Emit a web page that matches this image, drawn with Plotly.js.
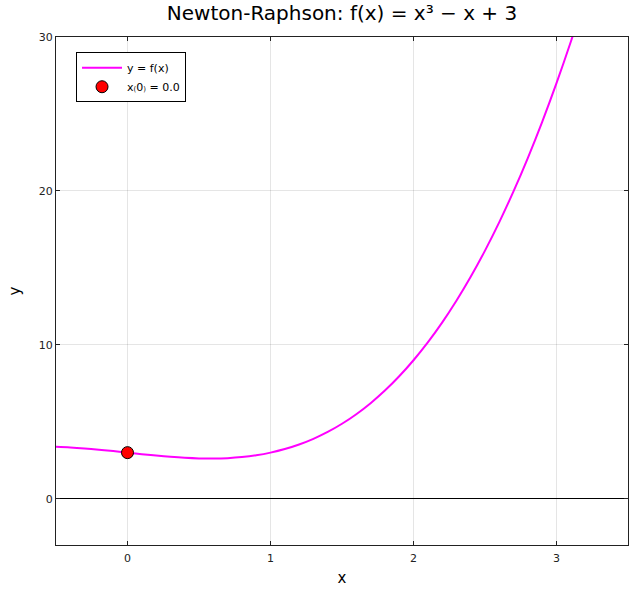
<!DOCTYPE html>
<html>
<head>
<meta charset="utf-8">
<script src="https://cdn.plot.ly/plotly-3.0.1.min.js"></script>
<style>html,body{margin:0;padding:0;background:#fff;}#chart{width:640px;height:600px;}</style>
</head>
<body>
<div id="chart"></div>
<script>
// Curve samples
const curveX = [-0.5,-0.4,-0.3,-0.2,-0.1,0.0,0.1,0.2,0.3,0.4,0.5,0.6,0.7,0.8,0.9,1.0,1.1,1.2,1.3,1.4,1.5,1.6,1.7,1.8,1.9,2.0,2.1,2.2,2.3,2.4,2.5,2.6,2.7,2.8,2.9,3.0,3.1,3.2];
const curveY = [3.375,3.336,3.273,3.192,3.099,3.0,2.901,2.808,2.727,2.664,2.625,2.616,2.643,2.712,2.829,3.0,3.231,3.528,3.897,4.344,4.875,5.496,6.213,7.032,7.959,9.0,10.161,11.448,12.867,14.424,16.125,17.976,19.983,22.152,24.489,27.0,29.691,32.568];
const startX = [0.0];
const startY = [3.0];
const xTicks = [0,1,2,3];
const yTicks = [0,10,20,30];

const font = "DejaVu Sans, sans-serif";
const data = [
  {x: curveX, y: curveY, type: 'scatter', mode: 'lines', name: 'y = f(x)',
   line: {color: '#ff00ff', width: 2, shape: 'spline'}},
  {x: startX, y: startY, type: 'scatter', mode: 'markers', name: 'x₍0₎ = 0.0',
   marker: {color: '#ff0000', size: 12, line: {color: '#000', width: 1}}}
];
const axisCommon = {
  showline: true, linecolor: '#222', linewidth: 1, mirror: 'ticks',
  ticks: 'inside', ticklen: 4, tickcolor: '#222',
  showgrid: true, gridcolor: 'rgba(0,0,0,0.1)', gridwidth: 1,
  zeroline: false, tickfont: {family: font, size: 11, color: '#222'}
};
const layout = {
  width: 640, height: 600,
  margin: {l: 56, r: 12, t: 37, b: 55},
  paper_bgcolor: '#fff', plot_bgcolor: '#fff',
  title: {text: 'Newton-Raphson: f(x) = x³ − x + 3', font: {family: font, size: 20, color: '#000'},
          x: 0.5, xref: 'paper', y: 0.978, yref: 'container', yanchor: 'middle'},
  xaxis: Object.assign({}, axisCommon, {range: [-0.5, 3.5], tickvals: xTicks, ticklabelstandoff: 3,
          title: {text: 'x', font: {family: font, size: 15, color: '#000'}, standoff: 8}}),
  yaxis: Object.assign({}, axisCommon, {range: [-3, 30], tickvals: yTicks,
          zeroline: true, zerolinecolor: '#000', zerolinewidth: 1,
          title: {text: 'y', font: {family: font, size: 15, color: '#000'}, standoff: 14}}),
  showlegend: true,
  legend: {x: 0.035, y: 0.97, xanchor: 'left', yanchor: 'top',
           bgcolor: '#fff', bordercolor: '#000', borderwidth: 1,
           font: {family: font, size: 11, color: '#000'}, tracegroupgap: 0, itemwidth: 40}
};
Plotly.newPlot('chart', data, layout, {displayModeBar: false, staticPlot: true});
</script>
</body>
</html>
